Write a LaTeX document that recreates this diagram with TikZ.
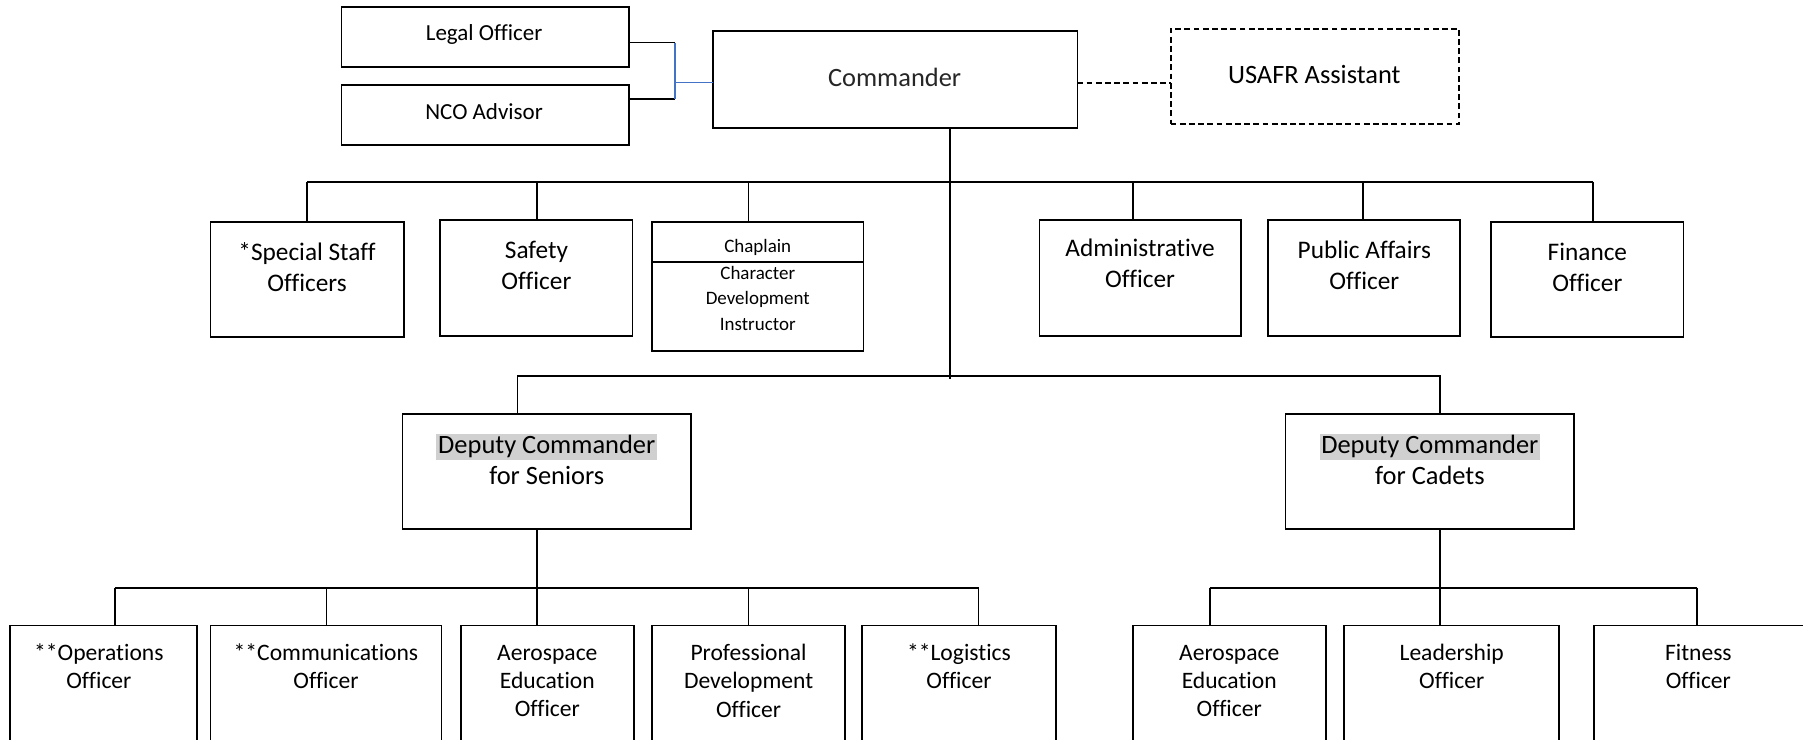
\documentclass[tikz,border=0pt]{standalone}
\usepackage{fontspec}
\setmainfont[Ligatures=NoCommon]{Carlito}
\definecolor{offblue}{HTML}{4472C4}
\definecolor{hlgray}{HTML}{D0D0D0}
\newcommand{\obox}[6][]{\node[box,#1,minimum width={(#5-#3)*1pt},minimum height={(#6-#4)*1pt}] (#2) at ({(#3+#5)/2},{(#4+#6)/2}) {};}
\newcommand{\hlt}[1]{{\setlength{\fboxsep}{1.5pt}\colorbox{hlgray}{#1}}}
\begin{document}
\begin{tikzpicture}[x=1pt,y=-1pt,
  box/.style={draw, line width=1.6pt, inner sep=0pt, outer sep=0pt},
  dbox/.style={dash pattern=on 5pt off 3pt},
  con/.style={line width=1.6pt},
  txt/.style={align=center, inner sep=0pt, font=\fontsize{22}{27}\selectfont},
  ttxt/.style={txt, font=\fontsize{20}{24}\selectfont},
  ctxt/.style={txt, font=\fontsize{16.5}{22.5}\selectfont},
  dtxt/.style={txt, font=\fontsize{23}{27}\selectfont},
  btxt/.style={txt, font=\fontsize{20.5}{24.5}\selectfont}]
\useasboundingbox (0,0) rectangle (1568,643);
\clip (0,0) rectangle (1568,643);
% top row
\obox{legal}{297}{6}{547}{58}
\obox{nco}{297}{74}{547}{126}
\obox{cmd}{620}{27}{937}{111}
\obox[dbox]{usafr}{1018}{25}{1269}{108}
\node[ttxt] (legal-t) at (421,30) {Legal Officer};
\node[ttxt] (nco-t) at (421,97) {NCO Advisor};
\node[dtxt, text=black!85] (cmd-t) at (778,67) {Commander};
\node[dtxt] (usafr-t) at (1143,65) {USAFR Assistant};
% second row
\obox{special}{183}{193}{351}{293}
\obox{safety}{383}{191}{550}{292}
\obox{chap}{567}{193}{751}{305}
\obox{admin}{904}{191}{1079}{292}
\obox{pub}{1103}{191}{1270}{292}
\obox{fin}{1297}{193}{1464}{293}
\node[txt] (special-t) at (267,232.5) {*Special Staff\\Officers};
\node[txt] (safety-t) at (466.5,230.5) {Safety\\Officer};
\node[ctxt] (chap-t) at (659,215) {Chaplain};
\node[ctxt] (cdi-t) at (659,259.5) {Character\\Development\\Instructor};
\node[txt] (admin-t) at (991.5,229) {Administrative\\Officer};
\node[txt] (pub-t) at (1186.5,230.5) {Public Affairs\\Officer};
\node[txt] (fin-t) at (1380.5,232.5) {Finance\\Officer};
\coordinate (cdv) at (0,228);
\draw[con] (chap.west |- cdv) -- (chap.east |- cdv);
% deputies
\obox{dcs}{350}{360}{601}{460}
\obox{dcc}{1118}{360}{1369}{460}
\node[dtxt] (dcs-t) at (475.5,399.5) {\hlt{Deputy Commander}\\for Seniors};
\node[dtxt] (dcc-t) at (1243.5,399.5) {\hlt{Deputy Commander}\\for Cadets};
% bottom row
\obox{ops}{9}{544}{171}{670}
\obox{comm}{183}{544}{384}{670}
\obox{aes}{401}{544}{551}{670}
\obox{prof}{567}{544}{735}{670}
\obox{log}{750}{544}{918}{670}
\obox{aec}{985}{544}{1153}{670}
\obox{lead}{1169}{544}{1356}{670}
\obox{fit}{1386}{544}{1580}{670}
\node[btxt] (ops-t) at (86,579.5) {**Operations\\Officer};
\node[btxt] (comm-t) at (283.5,579.5) {**Communications\\Officer};
\node[btxt] (aes-t) at (476,592) {Aerospace\\Education\\Officer};
\node[btxt] (prof-t) at (651,592) {Professional\\Development\\Officer};
\node[btxt] (log-t) at (834,579.5) {**Logistics\\Officer};
\node[btxt] (aec-t) at (1069,592) {Aerospace\\Education\\Officer};
\node[btxt] (lead-t) at (1262.5,579.5) {Leadership\\Officer};
\node[btxt] (fit-t) at (1477,579.5) {Fitness\\Officer};
% connectors: advisors
\coordinate (lj) at (587,37);
\coordinate (nj) at (587,86);
\coordinate (bj) at (587,72);
\draw[con] (legal.east |- lj) -- (lj);
\draw[con] (nco.east |- nj) -- (nj);
\draw[con, offblue, line width=1.2pt] (lj) -- (nj);
\draw[con, offblue, line width=1.2pt] (bj) -- (bj -| cmd.west);
\coordinate (dj) at (937,72);
\draw[con, dbox] (dj -| cmd.east) -- (dj -| usafr.west);
% commander trunk
\coordinate (cv) at (826,330);
\draw[con] (cv |- cmd.south) -- (cv);
% top bus
\coordinate (t1) at (267,158);
\coordinate (t2) at (467,158);
\coordinate (t3) at (651,158);
\coordinate (t4) at (985,158);
\coordinate (t5) at (1185,158);
\coordinate (t6) at (1385,158);
\draw[con] (t1) -- (t6);
\draw[con] (t1) -- (t1 |- special.north);
\draw[con] (t2) -- (t2 |- safety.north);
\draw[con] (t3) -- (t3 |- chap.north);
\draw[con] (t4) -- (t4 |- admin.north);
\draw[con] (t5) -- (t5 |- pub.north);
\draw[con] (t6) -- (t6 |- fin.north);
% deputy bus
\coordinate (m1) at (450,327);
\coordinate (m2) at (1252,327);
\draw[con] (m1 |- dcs.north) -- (m1) -- (m2) -- (m2 |- dcc.north);
% seniors bus
\coordinate (s0) at (467,511);
\coordinate (s1) at (100,511);
\coordinate (s2) at (284,511);
\coordinate (s4) at (651,511);
\coordinate (s5) at (851,511);
\draw[con] (s0 |- dcs.south) -- (s0 |- aes.north);
\draw[con] (s1) -- (s5);
\draw[con] (s1) -- (s1 |- ops.north);
\draw[con] (s2) -- (s2 |- comm.north);
\draw[con] (s4) -- (s4 |- prof.north);
\draw[con] (s5) -- (s5 |- log.north);
% cadets bus
\coordinate (c0) at (1252,511);
\coordinate (c1) at (1052,511);
\coordinate (c3) at (1476,511);
\draw[con] (c0 |- dcc.south) -- (c0 |- lead.north);
\draw[con] (c1) -- (c3);
\draw[con] (c1) -- (c1 |- aec.north);
\draw[con] (c3) -- (c3 |- fit.north);
\end{tikzpicture}
\end{document}
